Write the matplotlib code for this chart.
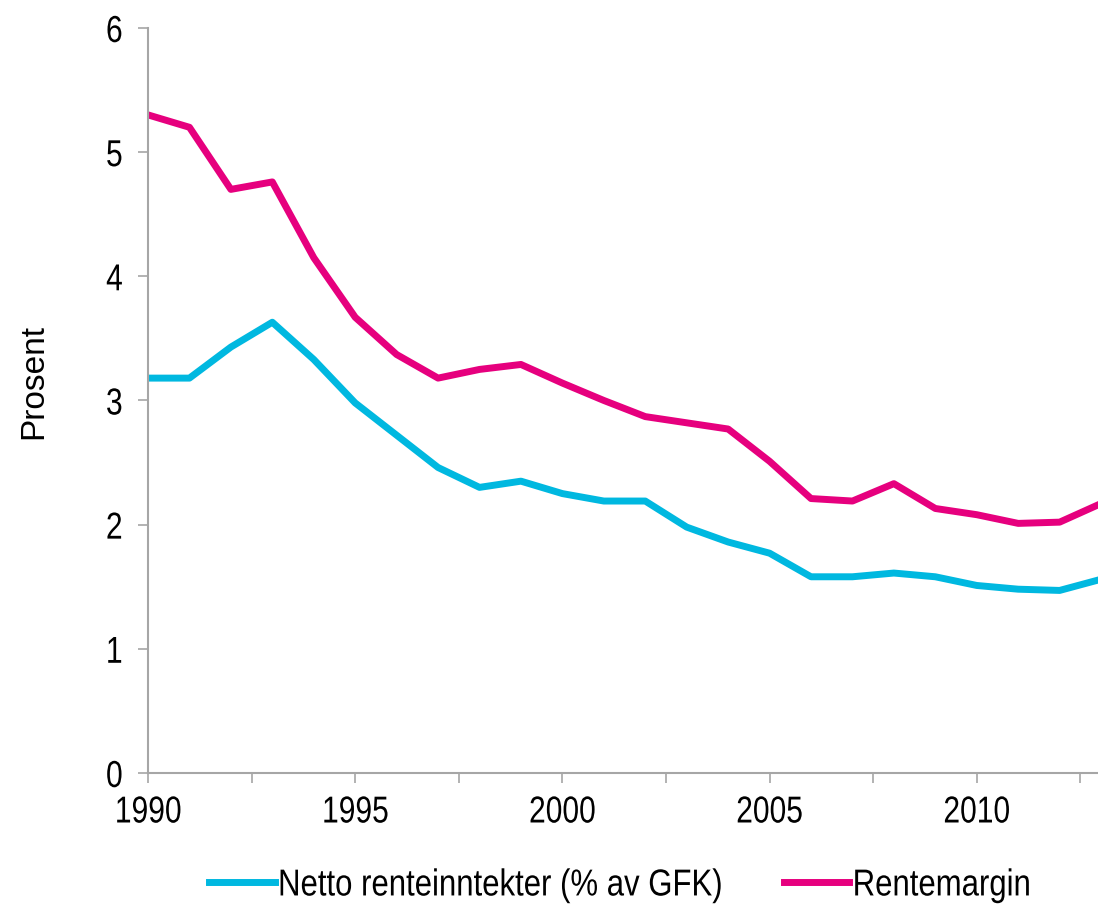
import numpy as np
import matplotlib.pyplot as plt
from matplotlib.ticker import MultipleLocator, FuncFormatter
from matplotlib.patheffects import AbstractPathEffect
from matplotlib.transforms import Affine2D

plt.rcParams['font.family'] = ['Liberation Sans', 'DejaVu Sans']

years = list(range(1990, 2014))
netto = [3.18, 3.18, 3.43, 3.63, 3.33, 2.98, 2.72, 2.46, 2.30, 2.35,
         2.25, 2.19, 2.19, 1.98, 1.86, 1.77, 1.58, 1.58, 1.61, 1.58,
         1.51, 1.48, 1.47, 1.56]
rentemargin = [5.30, 5.20, 4.70, 4.76, 4.15, 3.67, 3.37, 3.18, 3.25, 3.29,
               3.14, 3.00, 2.87, 2.82, 2.77, 2.51, 2.21, 2.19, 2.33, 2.13,
               2.08, 2.01, 2.02, 2.17]


# the original uses a narrow font; squeeze the glyphs horizontally
class Squeeze(AbstractPathEffect):
    def __init__(self, sx=0.83, anchor="center"):
        super().__init__()
        self.sx = sx
        self.anchor = anchor

    def draw_path(self, renderer, gc, tpath, affine, rgbFace=None):
        v = tpath.vertices
        if tpath.codes is not None:
            v = v[tpath.codes != 79]
        xs = affine.transform(v)[:, 0]
        if self.anchor == "left":
            cx = xs.min()
        elif self.anchor == "right":
            cx = xs.max()
        else:
            cx = (xs.min() + xs.max()) / 2
        t = affine + Affine2D().translate(-cx, 0).scale(self.sx, 1).translate(cx, 0)
        renderer.draw_path(gc, tpath, t, rgbFace)


fig = plt.figure(figsize=(10.98, 9.05), dpi=100)
ax = fig.add_axes([0.1348, 0.1459, 0.8680, 0.8232])

ax.plot(years, netto, color="#00B8E0", lw=5, label="Netto renteinntekter (% av GFK)")
ax.plot(years, rentemargin, color="#E6007E", lw=5, label="Rentemargin")

ax.set_xlim(1990, 2013)
ax.set_ylim(0, 6)
ax.xaxis.set_major_locator(MultipleLocator(2.5))
ax.xaxis.set_major_formatter(FuncFormatter(lambda v, p: "%d" % v if v % 5 == 0 else ""))
ax.yaxis.set_major_locator(MultipleLocator(1))

for s in ["top", "right"]:
    ax.spines[s].set_visible(False)
for s in ["left", "bottom"]:
    ax.spines[s].set_color("#A6A6A6")
    ax.spines[s].set_linewidth(1.5)

ax.tick_params(axis="x", length=7.5, width=1.2, color="#A6A6A6", labelsize=27, pad=8)
ax.tick_params(axis="y", length=7, width=1.2, color="#A6A6A6", labelsize=27, pad=11)

ax.set_ylabel("Prosent", fontsize=24)
ax.yaxis.set_label_coords(-0.104, 0.526)

leg = ax.legend(loc="center", bbox_to_anchor=(0.514, -0.151), ncol=2, frameon=False,
                fontsize=27, handlelength=1.75, handletextpad=0.08, columnspacing=-0.8)
for txt in leg.get_texts():
    txt.set_path_effects([Squeeze(0.83, "left")])

fig.canvas.draw()
for t in ax.get_xticklabels():
    t.set_path_effects([Squeeze(0.8, "center")])
for t in ax.get_yticklabels():
    t.set_path_effects([Squeeze(0.8, "right")])

plt.savefig("out.png")
plt.close()
